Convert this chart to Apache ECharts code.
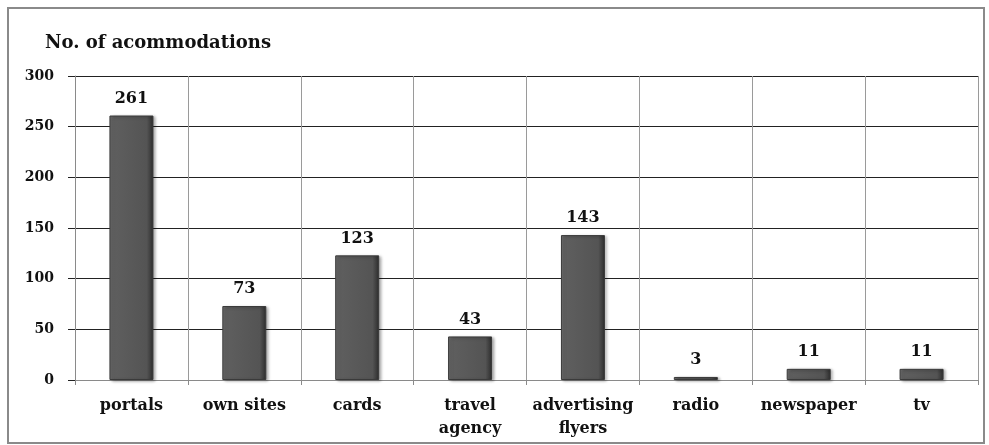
<!DOCTYPE html>
<html>
<head>
<meta charset="utf-8">
<script src="https://cdn.jsdelivr.net/npm/echarts@6/dist/echarts.min.js"></script>
<style>
  html, body { margin: 0; padding: 0; background: #fff; }
  #chart { width: 989px; height: 445px; }
</style>
</head>
<body>
<div id="chart"></div>
<script>
// data
const categories = ['portals', 'own sites', 'cards', 'travel\nagency', 'advertising\nflyers', 'radio', 'newspaper', 'tv']
const accommodations = [261, 73, 123, 43, 143, 3, 11, 11]
const yTicks = { min: 0, max: 300, interval: 50 }

const serif = 'DejaVu Serif'

const barColor = new echarts.graphic.LinearGradient(0, 0, 1, 0, [
  { offset: 0, color: '#707070' },
  { offset: 0.12, color: '#5e5e5e' },
  { offset: 0.85, color: '#545454' },
  { offset: 1, color: '#2c2c2c' }
])

const chart = echarts.init(document.getElementById('chart'))
chart.setOption({
  animation: false,
  title: {
    text: 'No. of acommodations',
    left: 40,
    top: 29,
    textStyle: { fontFamily: serif, fontWeight: 'bold', fontSize: 18, color: '#111' }
  },
  graphic: [{ // outer frame
    type: 'rect',
    shape: { x: 8, y: 8, width: 976, height: 435 },
    style: { fill: 'none', stroke: '#8a8a8a', lineWidth: 2 },
    silent: true
  }],
  grid: { left: 75, right: 11, top: 76, bottom: 65 },
  xAxis: {
    type: 'category',
    data: categories,
    axisLine: { lineStyle: { color: '#8a8a8a', width: 1 } },
    axisTick: { show: true, length: 5, lineStyle: { color: '#8a8a8a' } },
    splitLine: { show: true, lineStyle: { color: '#9a9a9a', width: 1 } },
    axisLabel: {
      margin: 14,
      interval: 0,
      fontFamily: serif,
      fontWeight: 'bold',
      fontSize: 16,
      lineHeight: 23,
      color: '#111'
    }
  },
  yAxis: {
    type: 'value',
    min: yTicks.min,
    max: yTicks.max,
    interval: yTicks.interval,
    axisLine: { show: true, lineStyle: { color: '#8a8a8a' } },
    axisTick: { show: true, length: 7, lineStyle: { color: '#222' } },
    splitLine: { lineStyle: { color: '#222', width: 1 } },
    axisLabel: {
      margin: 21,
      fontFamily: serif,
      fontWeight: 'bold',
      fontSize: 14,
      color: '#111'
    }
  },
  series: [{
    type: 'bar',
    data: accommodations,
    barWidth: 44,
    itemStyle: {
      color: barColor,
      borderColor: '#3a3a3a',
      borderWidth: 1,
      shadowColor: 'rgba(0,0,0,0.35)',
      shadowBlur: 3,
      shadowOffsetX: 2,
      shadowOffsetY: 1
    },
    label: {
      show: true,
      position: 'top',
      distance: 9,
      fontFamily: serif,
      fontWeight: 'bold',
      fontSize: 16,
      color: '#111'
    }
  }]
})
</script>
</body>
</html>
